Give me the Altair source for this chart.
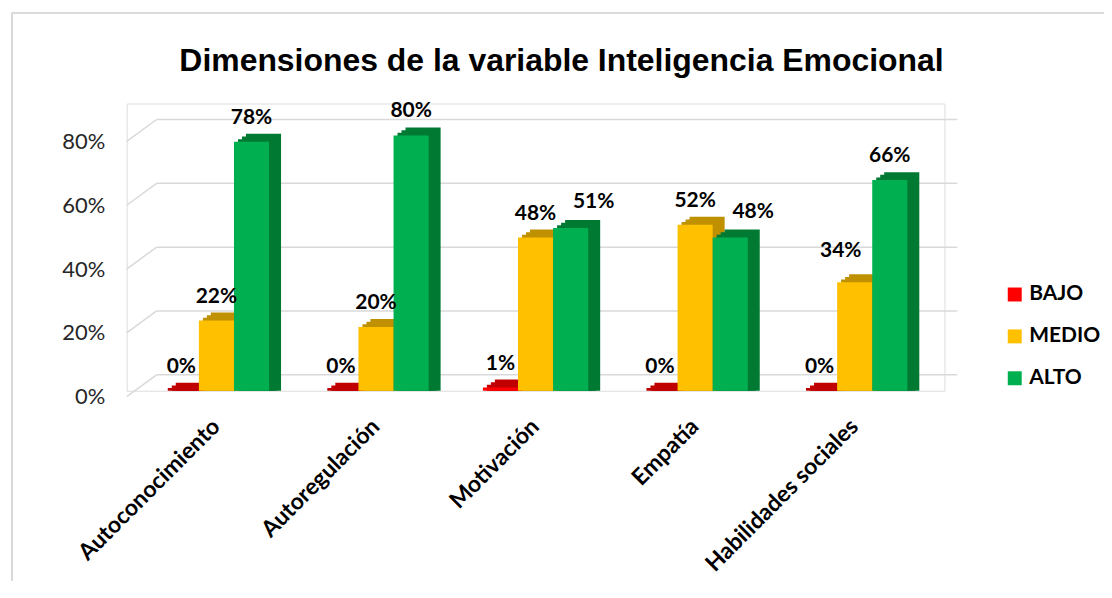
import altair as alt
import pandas as pd

categories = ["Autoconocimiento", "Autoregulación", "Motivación", "Empatía", "Habilidades sociales"]
levels = ["BAJO", "MEDIO", "ALTO"]
bajo = [0.00, 0.00, 0.01, 0.00, 0.00]
medio = [0.22, 0.20, 0.48, 0.52, 0.34]
alto = [0.78, 0.80, 0.51, 0.48, 0.66]
y_ticks = [0.0, 0.2, 0.4, 0.6, 0.8]

rows = []
for i, c in enumerate(categories):
    for lev, vals in zip(levels, [bajo, medio, alto]):
        rows.append({"cat": c, "level": lev, "value": vals[i]})
df = pd.DataFrame(rows)
grid_df = pd.DataFrame({"tick": y_ticks})

front_colors = ["#FF0000", "#FFC000", "#00B050"]
side_colors = ["#C00000", "#BF9000", "#007A33"]

W, H = 820, 288
FONT = "Lato"
GRID = "#D9D9D9"

x_scale = alt.Scale(domain=categories, paddingInner=0.34, paddingOuter=0.2325)
y_scale = alt.Scale(domain=[0, 0.9], nice=False, zero=True)

x_axis = alt.Axis(title=None, labelAngle=-45, labelAlign="right", labelBaseline="middle",
                  ticks=False, domain=False, grid=False,
                  labelFont=FONT, labelFontWeight="bold", labelFontSize=23, labelLimit=0,
                  labelColor="#000000", labelPadding=32)
y_axis = alt.Axis(title=None, values=y_ticks, format=".0%", ticks=False, domain=False,
                  grid=False, labelFont=FONT, labelFontSize=22, labelColor="#262626",
                  labelPadding=22, labelOffset=6)

x_enc = alt.X("cat:N", sort=categories, scale=x_scale, axis=x_axis)
y_enc = alt.Y("value:Q", scale=y_scale, axis=y_axis, stack=None)
xo_enc = alt.XOffset("level:N", sort=levels, scale=alt.Scale(domain=levels))

# pseudo-3D gridlines (back wall + side diagonals)
grid_back = alt.Chart(grid_df).mark_rule(color=GRID, strokeWidth=1.5, yOffset=-16).encode(
    y=alt.Y("tick:Q", scale=y_scale, axis=y_axis),
    x=alt.value(30), x2=alt.value(833),
)
grid_side = alt.Chart(grid_df).mark_rule(color=GRID, strokeWidth=1.5, yOffset=6, y2Offset=-16).encode(
    y=alt.Y("tick:Q", scale=y_scale, axis=y_axis),
    y2=alt.Y2("tick"),
    x=alt.value(0), x2=alt.value(30),
)

# chart-area border (top and left edges visible in the reference)
frame_top = alt.Chart(grid_df).mark_rule(color=GRID, strokeWidth=1.5).encode(
    x=alt.value(-115), x2=alt.value(1000), y=alt.value(-91)
)
frame_left = alt.Chart(grid_df).mark_rule(color=GRID, strokeWidth=1.5).encode(
    x=alt.value(-115), y=alt.value(-91), y2=alt.value(510)
)


def depth_layer(shift_x, shift_y):
    # darker copy of the bars pushed back to fake the 3D top / side faces
    return alt.Chart(df).mark_bar(yOffset=-shift_y).encode(
        x=x_enc, y=y_enc,
        xOffset=alt.XOffset("level:N", sort=levels,
                            scale=alt.Scale(domain=levels, range=[shift_x, 105.6 + shift_x])),
        color=alt.Color("level:N", scale=alt.Scale(domain=levels, range=side_colors), legend=None),
    )


side_far = depth_layer(12, 8)
side_mid = depth_layer(8, 5.3)
side_near = depth_layer(4, 2.7)

front = alt.Chart(df).mark_bar().encode(
    x=x_enc, y=y_enc, xOffset=xo_enc,
    color=alt.Color("level:N", scale=alt.Scale(domain=levels, range=front_colors),
                    legend=alt.Legend(title=None, orient="none", legendX=880, legendY=181,
                                      symbolType="square", symbolSize=196, symbolStrokeWidth=0,
                                      labelFont=FONT, labelFontSize=21, labelFontWeight="bold",
                                      labelColor="#000000", rowPadding=20, labelOffset=4)),
)

# data labels; a few were moved sideways in the original to avoid collisions
moved_right = "(datum.level == 'ALTO' && (datum.cat == 'Motivación' || datum.cat == 'Empatía'))"
moved_left = "(datum.level == 'MEDIO' && datum.cat == 'Habilidades sociales')"


def label_layer(filter_expr, dx, dy):
    return alt.Chart(df).transform_filter(filter_expr).mark_text(
        font=FONT, fontWeight="bold", fontSize=21, baseline="alphabetic",
        dx=dx, dy=dy, color="#000000"
    ).encode(
        x=x_enc, y=y_enc, xOffset=xo_enc,
        text=alt.Text("value:Q", format=".0%"),
    )


labels_std = label_layer(f"!{moved_right} && !{moved_left}", 0, -18)
labels_r = label_layer(moved_right, 23, -20)
labels_l = label_layer(moved_left, -14, -25)

chart = alt.layer(frame_top, frame_left, grid_back, grid_side,
                  side_far, side_mid, side_near, front,
                  labels_std, labels_r, labels_l).resolve_scale(
    color="independent", xOffset="independent"
).properties(
    width=W, height=H,
    autosize=alt.AutoSizeParams(type="none"),
    padding={"left": 119, "top": 95, "right": 160, "bottom": 190},
    title=alt.TitleParams("Dimensiones de la variable Inteligencia Emocional",
                          font="Liberation Sans", fontSize=32, fontWeight="bold",
                          color="#000000", anchor="middle", dx=26, offset=-66),
).configure_view(stroke=None).configure(background="white")

chart.save("out.html", embed_options={"renderer": "svg", "actions": False})
